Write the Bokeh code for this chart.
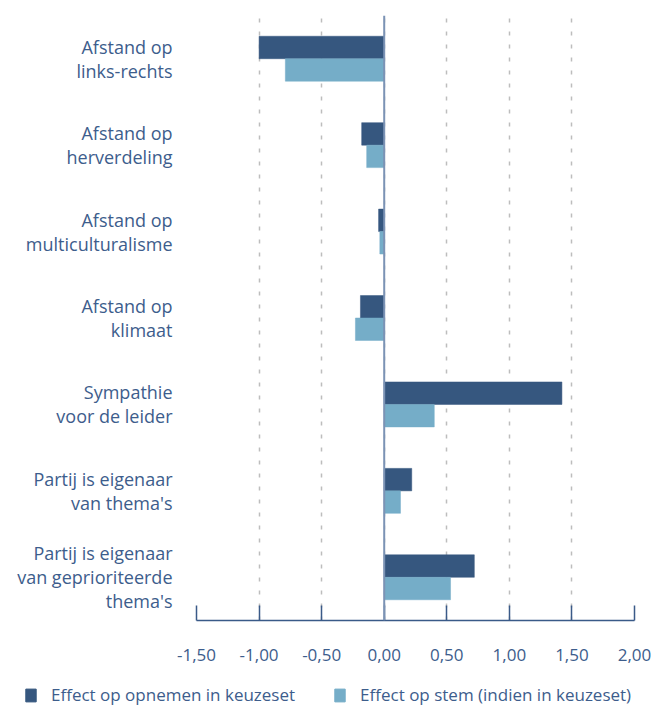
from bokeh.plotting import figure
from bokeh.layouts import column
from bokeh.models import (Range1d, FactorRange, FixedTicker, Span, Legend, LegendItem,
                          ColumnDataSource)
from bokeh.transform import dodge
from bokeh.embed import file_html
from bokeh.resources import INLINE

categories = [
    "Afstand op\nlinks-rechts",
    "Afstand op\nherverdeling",
    "Afstand op\nmulticulturalisme",
    "Afstand op\nklimaat",
    "Sympathie\nvoor de leider",
    "Partij is eigenaar\nvan thema's",
    "Partij is eigenaar\nvan geprioriteerde\nthema's",
]
effect_keuzeset = [-1.00, -0.18, -0.045, -0.19, 1.42, 0.22, 0.72]
effect_stem = [-0.79, -0.14, -0.035, -0.23, 0.40, 0.13, 0.53]
series_names = ["Effect op opnemen in keuzeset", "Effect op stem (indien in keuzeset)"]
x_ticks = [-1.5, -1.0, -0.5, 0.0, 0.5, 1.0, 1.5, 2.0]
x_tick_labels = ["-1,50", "-1,00", "-0,50", "0,00", "0,50", "1,00", "1,50", "2,00"]

DARK = "#36577f"
LIGHT = "#75adc8"
TEXT = "#3d5d8c"
FONT = "Open Sans"

src = ColumnDataSource(dict(cat=categories, a=effect_keuzeset, b=effect_stem))

p = figure(width=656, height=672, output_backend="svg", toolbar_location=None,
           x_range=Range1d(-1.5, 2.0),
           y_range=FactorRange(factors=list(reversed(categories)), range_padding=0),
           min_border_left=196, min_border_right=22, min_border_top=15, min_border_bottom=52)
p.frame_align = False

p.hbar(y=dodge("cat", 0.13, range=p.y_range), right="a", left=0, height=0.26,
       source=src, fill_color=DARK, line_color=DARK, line_width=0.5)
p.hbar(y=dodge("cat", -0.13, range=p.y_range), right="b", left=0, height=0.26,
       source=src, fill_color=LIGHT, line_color=LIGHT, line_width=0.5)

p.add_layout(Span(location=0, dimension="height", line_color="#7b93b5", line_width=2))

p.outline_line_color = None
p.ygrid.grid_line_color = None
p.xgrid.grid_line_color = "#bdbdbd"
p.xgrid.grid_line_dash = "4 9"
p.xgrid.grid_line_width = 1.5

xa = p.xaxis[0]
xa.ticker = FixedTicker(ticks=x_ticks)
xa.major_label_overrides = {t: l for t, l in zip(x_ticks, x_tick_labels)}
xa.axis_line_color = "#3a5a88"
xa.axis_line_width = 1.5
xa.major_tick_line_color = "#3a5a88"
xa.major_tick_line_width = 1.5
xa.major_tick_in = 15
xa.major_tick_out = 0
xa.minor_tick_line_color = None
xa.major_label_standoff = 28
xa.major_label_text_font = FONT
xa.major_label_text_font_size = "17px"
xa.major_label_text_color = TEXT

ya = p.yaxis[0]
ya.axis_line_color = None
ya.major_tick_line_color = None
ya.minor_tick_line_color = None
ya.major_label_standoff = 18
ya.major_label_text_font = FONT
ya.major_label_text_font_size = "18px"
ya.major_label_text_color = TEXT
ya.major_label_text_line_height = 1.0

# legend strip
lg = figure(width=656, height=34, output_backend="svg", toolbar_location=None,
            x_range=Range1d(0, 1), y_range=Range1d(0, 1),
            x_axis_location=None, y_axis_location=None,
            min_border_left=0, min_border_right=0, min_border_top=0, min_border_bottom=0)
lg.frame_align = False
lg.grid.grid_line_color = None
lg.outline_line_color = None
d1 = lg.hbar(y=[5], right=[5], left=[4], height=0.5, fill_color=DARK, line_color=DARK)
d2 = lg.hbar(y=[5], right=[5], left=[4], height=0.5, fill_color=LIGHT, line_color=LIGHT)
legend = Legend(items=[LegendItem(label=series_names[0], renderers=[d1]),
                       LegendItem(label=series_names[1], renderers=[d2])],
                location=(24, 0), orientation="horizontal",
                padding=0, margin=0, spacing=38, border_line_color=None,
                background_fill_alpha=0, glyph_width=13, glyph_height=16,
                label_height=16, label_standoff=14,
                label_text_font=FONT, label_text_font_size="17px",
                label_text_color=TEXT)
lg.add_layout(legend, "center")

layout = column(p, lg, spacing=0)
open("out.html", "w").write(file_html(layout, INLINE))
